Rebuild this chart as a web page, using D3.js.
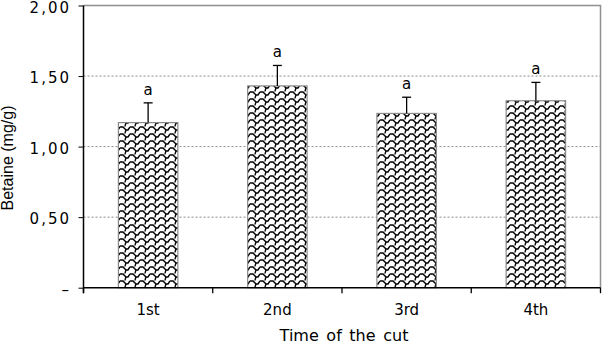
<!DOCTYPE html>
<html><head><meta charset="utf-8">
<script src="https://cdn.jsdelivr.net/npm/d3@7"></script>
<style>
body{margin:0;background:#fff;}
text{font-family:"DejaVu Sans",sans-serif;fill:#000;}
</style></head>
<body><svg id="c" width="602" height="355"></svg>
<script>
const categories = ["1st","2nd","3rd","4th"];
const values = [1.17, 1.43, 1.235, 1.325];
const errors = [0.14, 0.145, 0.115, 0.13];
const letters = ["a","a","a","a"];
const yTicks = [0, 0.5, 1.0, 1.5, 2.0];
const yTickLabels = ["–","0,50","1,00","1,50","2,00"];
const xTitle = "Time of the cut";
const yTitle = "Betaine (mg/g)";

const svg = d3.select("#c");
const L = 83.5, R = 600.5, T = 5.5, B = 287.7;
const x = d3.scaleBand().domain(categories).range([L, R]).paddingInner(0.54).paddingOuter(0.27);
const y = d3.scaleLinear().domain([0, 2]).range([B, T]);

const defs = svg.append("defs");
const pat = defs.append("pattern").attr("id","scale").attr("patternUnits","userSpaceOnUse")
  .attr("width",10).attr("height",7);
pat.append("rect").attr("width",10).attr("height",7).attr("fill","#fff");
pat.append("path").attr("d","M0,1 H3 L6,4 H8 L10,1 M6,4 L5,7 M5,0 L5,0.5")
  .attr("fill","none").attr("stroke","#000").attr("stroke-width",1.4);

// gridlines
svg.append("g").selectAll("line").data(yTicks.filter(d => d > 0 && d < 2)).join("line")
  .attr("x1", L).attr("x2", R).attr("y1", d => y(d)).attr("y2", d => y(d))
  .attr("stroke","#8a8a8a").attr("stroke-width",1).attr("stroke-dasharray","2,2");
// top & right border
svg.append("path").attr("d", `M${L},${y(2)}H${R}V${B}`).attr("fill","none")
  .attr("stroke","#909090").attr("stroke-width",1.5);

// bars
svg.append("g").selectAll("rect").data(values).join("rect")
  .attr("x",(d,i)=>x(categories[i])).attr("width",x.bandwidth())
  .attr("y",d=>y(d)).attr("height",d=>B-y(d))
  .attr("fill","url(#scale)").attr("stroke","#8a8a8a").attr("stroke-width",1.2);

// error bars
const eb = svg.append("g").attr("stroke","#000").attr("stroke-width",1.3);
values.forEach((v,i)=>{
  const cx = x(categories[i]) + x.bandwidth()/2;
  eb.append("line").attr("x1",cx).attr("x2",cx).attr("y1",y(v)).attr("y2",y(v+errors[i]));
  eb.append("line").attr("x1",cx-4.5).attr("x2",cx+4.5).attr("y1",y(v+errors[i])).attr("y2",y(v+errors[i]));
});
svg.append("g").selectAll("text").data(letters).join("text")
  .attr("x",(d,i)=>x(categories[i]) + x.bandwidth()/2)
  .attr("y",(d,i)=>y(values[i]+errors[i]) - 8)
  .attr("text-anchor","middle").attr("font-size",15).text(d=>d);

// y axis
const yAxis = d3.axisLeft(y).tickValues(yTicks).tickSize(5).tickPadding(7.5)
  .tickFormat((d,i)=>yTickLabels[i]);
const gy = svg.append("g").attr("transform",`translate(${L},0)`).call(yAxis);
gy.select(".domain").remove();
gy.selectAll(".tick line").attr("stroke","#000");
gy.selectAll(".tick text").attr("font-size",15).attr("letter-spacing","2px")
  .attr("dy","0.45em").style("font-family","DejaVu Sans").attr("fill","#000");
svg.append("line").attr("x1",L).attr("x2",L).attr("y1",T).attr("y2",B+5.5).attr("stroke","#000").attr("stroke-width",1.5);

// x axis
svg.append("line").attr("x1",L).attr("x2",R).attr("y1",B).attr("y2",B).attr("stroke","#000").attr("stroke-width",1.5);
const bounds = [L].concat(categories.map(c => x(c) + x.bandwidth() + x.step()*x.paddingInner()/2)).slice(0,4).concat([R]);
svg.append("g").selectAll("line").data(bounds).join("line")
  .attr("x1",d=>d).attr("x2",d=>d).attr("y1",B).attr("y2",B+5.5).attr("stroke","#000").attr("stroke-width",1.3);
svg.append("g").selectAll("text").data(categories).join("text")
  .attr("x",d=>x(d)+x.bandwidth()/2).attr("y",315)
  .attr("text-anchor","middle").attr("font-size",15).text(d=>d);

svg.append("text").attr("x",344).attr("y",341).attr("text-anchor","middle")
  .attr("font-size",16).attr("word-spacing","2.5px").text(xTitle);
svg.append("text").attr("transform","translate(13,158) rotate(-90)").attr("text-anchor","middle")
  .style("font-family","'Liberation Sans Narrow','Liberation Sans',sans-serif").attr("font-size",16).text(yTitle);
</script></body></html>
